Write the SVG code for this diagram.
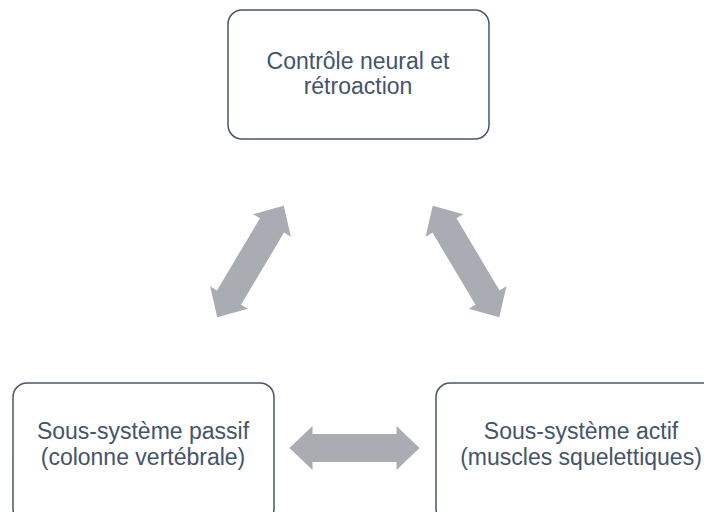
<svg xmlns="http://www.w3.org/2000/svg" width="704" height="512" viewBox="0 0 704 512">
  <style>
    .box { fill: #ffffff; stroke: #4a5568; stroke-width: 1.5; }
    .lbl { font-family: "Liberation Sans", Arial, sans-serif; font-size: 23px; fill: #44546a; text-anchor: middle; }
    .arr { fill: #a9acb3; }
  </style>
  <defs>
    <polygon id="dblarrow" points="-65,0 -42,-22 -42,-14 42,-14 42,-22 65,0 42,22 42,14 -42,14 -42,22"/>
  </defs>
  <rect width="704" height="512" fill="#ffffff"/>
  <g id="connectors" class="arr">
    <use href="#dblarrow" transform="translate(250.5,261.5) rotate(-59.2)"/>
    <use href="#dblarrow" transform="translate(466,261.5) rotate(59.2)"/>
    <use href="#dblarrow" transform="translate(354.5,448)"/>
  </g>
  <g id="node-controle">
    <rect class="box" x="228" y="10" width="261" height="129" rx="14"/>
    <text class="lbl" x="358" y="69">Contrôle neural et</text>
    <text class="lbl" x="358" y="94">rétroaction</text>
  </g>
  <g id="node-passif">
    <rect class="box" x="13" y="383" width="261" height="140" rx="14"/>
    <text class="lbl" x="143" y="439">Sous-système passif</text>
    <text class="lbl" x="143" y="465">(colonne vertébrale)</text>
  </g>
  <g id="node-actif">
    <rect class="box" x="436" y="383" width="282" height="140" rx="14"/>
    <text class="lbl" x="581" y="439">Sous-système actif</text>
    <text class="lbl" x="581" y="465">(muscles squelettiques)</text>
  </g>
</svg>
